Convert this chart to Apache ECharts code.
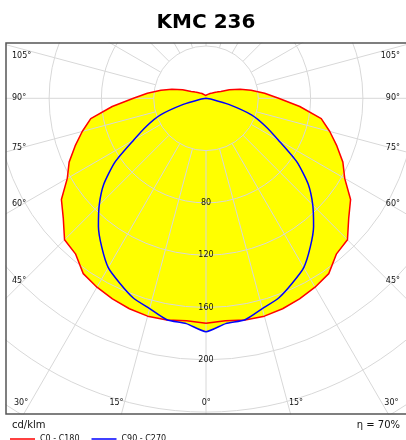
<!DOCTYPE html>
<html>
<head>
<meta charset="utf-8">
<script src="https://cdn.jsdelivr.net/npm/echarts@6/dist/echarts.min.js"></script>
<style>
  html, body { margin: 0; padding: 0; background: #fff; }
  #chart { width: 406px; height: 440px; }
</style>
</head>
<body>
<div id="chart"></div>
<script>
// gamma angles (deg from nadir) and intensities in cd/klm
const angles = [0, 5, 10, 15, 20, 25, 30, 35, 40, 45, 50, 55, 60, 65, 70, 75, 80, 85, 90,
  95, 100, 105, 110, 115, 120, 125, 130, 135, 140, 145, 150, 155, 160, 165, 170, 175, 180];
const c0c180 = [172, 170.7, 172.2, 172.5, 171.3, 169.3, 166.8, 163.7, 155.3, 153, 142.5, 135, 122.5,
  115.5, 106.5, 98, 89.5, 72, 55.5, 45, 35, 27, 19, 12.5, 9.5, 7.8, 6.3, 5.5, 4.8, 4.2, 3.8, 3.3,
  2.9, 2.5, 2.2, 2, 1.8];
const c90c270 = [178.5, 173, 172, 166.5, 162.5, 156, 149.5, 139, 128, 115.5, 102, 85, 64, 50, 37,
  18, 5, 1, 0];

const radiusTicks = [80, 120, 160, 200];
const sideTicks = ['105°', '90°', '75°', '60°', '45°'];
const bottomTicks = ['30°', '15°', '0°', '15°', '30°'];

const title = 'KMC 236';
const unit = 'cd/klm';
const efficiency = 'η = 70%';

// geometry
const cx = 206, cy = 98.3;
const rMax = 320;
const pxPerCd = 1.3075;
const R = rMax * pxPerCd;

// right half: theta = gamma, left half: theta = 360 - gamma
function closedCurve(vals) {
  const n = vals.length;
  const pts = [];
  for (let i = 0; i < n; i++) pts.push([vals[i], angles[i]]);
  for (let i = n - 2; i >= 0; i--) pts.push([vals[i], 360 - angles[i]]);
  return pts;
}
function halfCurve(vals) {
  const n = vals.length;
  const pts = [];
  for (let i = n - 1; i >= 0; i--) pts.push([vals[i], 360 - angles[i]]);
  for (let i = 1; i < n; i++) pts.push([vals[i], angles[i]]);
  return pts;
}
const redData = closedCurve(c0c180);
const blueData = halfCurve(c90c270);

const font = '"DejaVu Sans", sans-serif';
const labelColor = '#111';
const gridColor = '#d8d8d8';

const chart = echarts.init(document.getElementById('chart'));

function label(text, x, y, align, size) {
  return {
    type: 'text', z: 120, silent: true,
    style: {
      text: text, x: x, y: y, fill: labelColor, font: (size || 8) + 'px ' + font,
      align: align, textAlign: align, verticalAlign: 'middle', textVerticalAlign: 'middle'
    }
  };
}

const texts = [];
const sideY = [55.5, 98, 147.5, 203.5, 281];
sideTicks.forEach((t, i) => {
  texts.push(label(t, 12, sideY[i], 'left'));
  texts.push(label(t, 400, sideY[i], 'right'));
});
const bottomX = [14, 116.5, 206.3, 296, 398.5];
const bottomAlign = ['left', 'center', 'center', 'center', 'right'];
bottomTicks.forEach((t, i) => {
  texts.push(label(t, bottomX[i], 403, bottomAlign[i]));
});

const option = {
  animation: false,
  polar: [
    { center: [cx, cy], radius: [0, R] },
    { center: [cx, cy], radius: [40 * pxPerCd, R] }
  ],
  angleAxis: [
    { polarIndex: 0, type: 'value', min: 0, max: 360, startAngle: 270, clockwise: false, show: false },
    {
      polarIndex: 1, type: 'value', min: 0, max: 360, interval: 15, startAngle: 270, clockwise: false,
      z: 3,
      axisLine: { show: false }, axisTick: { show: false }, axisLabel: { show: false },
      splitLine: { show: true, lineStyle: { color: gridColor, width: 1, type: 'solid' } }
    }
  ],
  radiusAxis: [
    { polarIndex: 0, type: 'value', min: 0, max: rMax, show: false },
    {
      polarIndex: 1, type: 'value', min: 40, max: rMax, interval: 40, z: 4,
      axisLine: { show: false }, axisTick: { show: false },
      splitLine: { show: true, lineStyle: { color: gridColor, width: 1, type: 'solid' } },
      axisLabel: {
        show: true, margin: 0, align: 'center', verticalAlign: 'middle', padding: [3, 0, 0, 0],
        color: labelColor, fontFamily: font, fontSize: 8,
        formatter: v => radiusTicks.includes(v) ? String(v) : ''
      }
    }
  ],
  legend: {
    data: ['C0 - C180', 'C90 - C270'],
    left: 10, top: 435, padding: 0, itemGap: 12,
    icon: 'rect', itemWidth: 25, itemHeight: 1.5,
    textStyle: { fontFamily: font, fontSize: 8, color: labelColor },
    z: 130
  },
  graphic: [
    { type: 'rect', z: 100, silent: true, shape: { x: 0, y: 0, width: 406, height: 42.5 }, style: { fill: '#fff' } },
    { type: 'rect', z: 100, silent: true, shape: { x: 0, y: 414.5, width: 406, height: 30 }, style: { fill: '#fff' } },
    { type: 'rect', z: 100, silent: true, shape: { x: 0, y: 0, width: 5.5, height: 440 }, style: { fill: '#fff' } },
    { type: 'rect', z: 101, silent: true, shape: { x: 6, y: 43, width: 420, height: 371 },
      style: { fill: 'none', stroke: '#555', lineWidth: 1.5 } },
    {
      type: 'text', z: 120, silent: true,
      style: { text: title, x: 206, y: 23, fill: '#000', font: 'bold 20px ' + font,
        align: 'center', textAlign: 'center', verticalAlign: 'middle', textVerticalAlign: 'middle' }
    },
    label(unit, 12, 425.5, 'left', 10),
    label(efficiency, 400, 425.5, 'right', 10)
  ].concat(texts),
  series: [
    {
      name: 'fill0', type: 'line', coordinateSystem: 'polar', polarIndex: 0, z: 1, silent: true,
      data: redData, showSymbol: false, lineStyle: { width: 0 },
      areaStyle: { color: '#ffff00', opacity: 1 }
    },
    {
      name: 'fill1', type: 'line', coordinateSystem: 'polar', polarIndex: 0, z: 1, silent: true,
      data: blueData, showSymbol: false, smooth: 0.2, lineStyle: { width: 0 },
      areaStyle: { color: '#ffff00', opacity: 1 }
    },
    {
      name: 'C0 - C180', type: 'line', coordinateSystem: 'polar', polarIndex: 0, z: 5,
      data: redData, showSymbol: false,
      itemStyle: { color: '#ff0000' }, lineStyle: { color: '#ff0000', width: 1.5 }
    },
    {
      name: 'C90 - C270', type: 'line', coordinateSystem: 'polar', polarIndex: 0, z: 5,
      data: blueData, showSymbol: false, smooth: 0.2,
      itemStyle: { color: '#0000ff' }, lineStyle: { color: '#0000ff', width: 1.5 }
    }
  ]
};
chart.setOption(option);
</script>
</body>
</html>
